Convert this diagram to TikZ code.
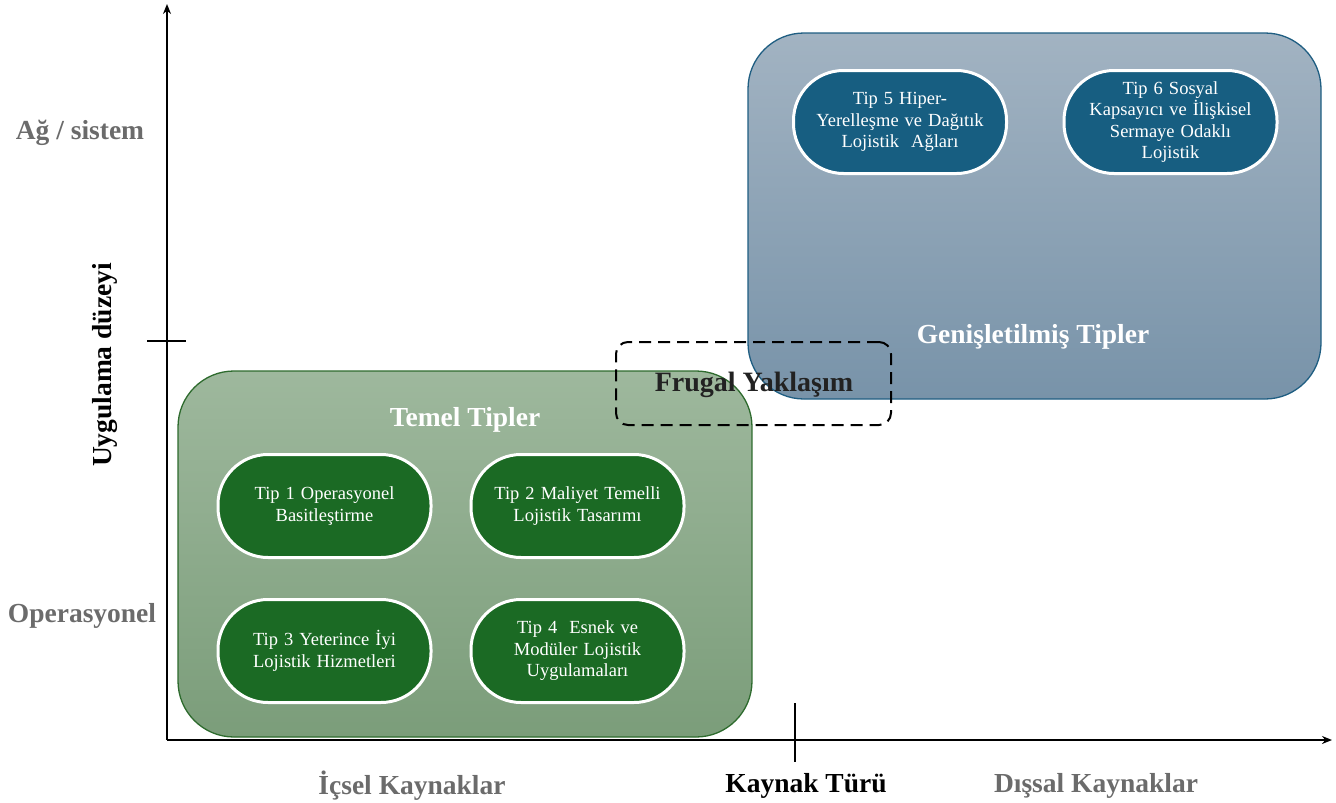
\documentclass[tikz,border=0pt]{standalone}
\usepackage{fontspec}
\setmainfont{Liberation Serif}
\newfontfamily\pillfont[WordSpace=1.3]{Liberation Serif}
\usetikzlibrary{arrows.meta,shadings}
\definecolor{greenborder}{HTML}{2E6B2E}
\definecolor{greentop}{HTML}{9EB89D}
\definecolor{greenbot}{HTML}{7B9D7A}
\definecolor{bluetop}{HTML}{A2B3C2}
\definecolor{bluebot}{HTML}{7893A9}
\definecolor{blueborder}{HTML}{1F5E82}
\definecolor{greenpill}{HTML}{1B6A24}
\definecolor{bluepill}{HTML}{175E81}
\definecolor{labelgray}{HTML}{6B6B6B}
\definecolor{darktext}{HTML}{222222}
\tikzset{
  axisline/.style={line width=2pt,-{Stealth[length=10pt,width=8pt]}},
  tickline/.style={line width=1.4pt},
  bigbox/.style={draw,line width=1.3pt,rounded corners=56pt,inner sep=0pt},
  pill/.style={draw=white,line width=3pt,rounded corners=50pt,minimum width=213pt,minimum height=103pt,
    text=white,align=center,font=\pillfont\fontsize{18.5}{21.5}\selectfont,inner sep=0pt},
  heading/.style={font=\fontsize{27.5}{30}\selectfont\bfseries,text=white},
  axislabel/.style={font=\fontsize{27.5}{30}\selectfont\bfseries,text=labelgray},
}
\begin{document}
\begin{tikzpicture}[x=1pt,y=-1pt]
\useasboundingbox (0,0) rectangle (1336,803);
% boxes
\node[bigbox,draw=greenborder,top color=greentop,bottom color=greenbot,
  minimum width=574pt,minimum height=366pt] (temel) at (465,554) {};
\node[bigbox,draw=blueborder,top color=bluetop,bottom color=bluebot,
  minimum width=573pt,minimum height=366pt] (genis) at (1034.5,216) {};
% axes
\coordinate (O) at (167,740);
\coordinate (ytop) at (167,4);
\coordinate (xend) at (1332,740);
\draw[axisline] (O) -- (ytop);
\draw[axisline] (O) -- (xend);
\coordinate (yt1) at (147,341);
\coordinate (yt2) at (186,341);
\draw[tickline] (yt1) -- (yt2);
\coordinate (xt1) at (795,703);
\coordinate (xt2) at (795,762);
\draw[tickline] (xt1) -- (xt2);
% headings
\node[heading] (temelh) at (465,420) {Temel Tipler};
\node[heading] (genish) at (1033,337) {Genişletilmiş Tipler};
% pills
\node[pill,fill=greenpill] (t1) at (324.5,506) {Tip 1 Operasyonel\\Basitleştirme};
\node[pill,fill=greenpill] (t2) at (577.5,506) {Tip 2 Maliyet Temelli\\Lojistik Tasarımı};
\node[pill,fill=greenpill] (t3) at (324.5,651) {Tip 3 Yeterince İyi\\Lojistik Hizmetleri};
\node[pill,fill=greenpill] (t4) at (577.5,651) {Tip 4 \ Esnek ve\\Modüler Lojistik\\Uygulamaları};
\node[pill,fill=bluepill] (t5) at (900,122) {Tip 5 Hiper-\\Yerelleşme ve Dağıtık\\Lojistik \ Ağları};
\node[pill,fill=bluepill] (t6) at (1170.5,122) {Tip 6 Sosyal\\Kapsayıcı ve İlişkisel\\Sermaye Odaklı\\Lojistik};
% frugal
\node[draw=black,dashed,line width=2pt,dash pattern=on 12pt off 7pt,rounded corners=12pt,
  minimum width=275pt,minimum height=83pt] (frugalbox) at (753.5,383.5) {};
\node[font=\fontsize{28}{30}\selectfont\bfseries,text=darktext] (frugal) at (754,385) {Frugal Yaklaşım};
% axis labels
\node[axislabel] (ag) at (80,133) {Ağ / sistem};
\node[axislabel] (op) at (82,616) {Operasyonel};
\node[font=\fontsize{27.5}{30}\selectfont\bfseries,text=black,rotate=90] (uyg) at (105,365) {Uygulama düzeyi};
\node[axislabel] (ic) at (412,786) {İçsel Kaynaklar};
\node[font=\fontsize{27.5}{30}\selectfont\bfseries,text=black] (kt) at (806,786) {Kaynak Türü};
\node[axislabel] (dis) at (1096,786) {Dışsal Kaynaklar};
\end{tikzpicture}
\end{document}
